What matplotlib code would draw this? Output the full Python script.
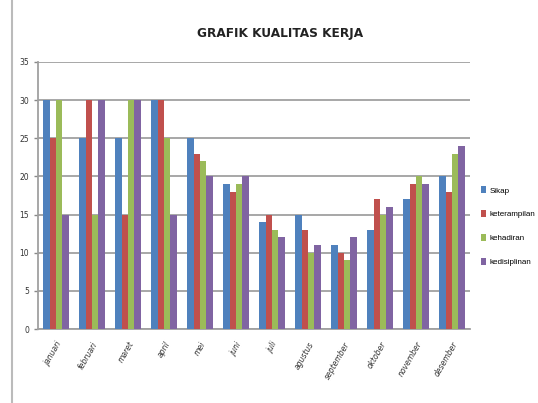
import matplotlib
matplotlib.use("Agg")
import matplotlib.pyplot as plt
import numpy as np
from matplotlib.lines import Line2D

months = ["januari", "februari", "maret", "april", "mei", "juni", "juli",
          "agustus", "september", "oktober", "november", "desember"]
series_names = ["Sikap", "keterampilan", "kehadiran", "kedisiplinan"]
sikap = [30, 25, 25, 30, 25, 19, 14, 15, 11, 13, 17, 20]
keterampilan = [25, 30, 15, 30, 23, 18, 15, 13, 10, 17, 19, 18]
kehadiran = [30, 15, 30, 25, 22, 19, 13, 10, 9, 15, 20, 23]
kedisiplinan = [15, 30, 30, 15, 20, 20, 12, 11, 12, 16, 19, 24]
yticks = [0, 5, 10, 15, 20, 25, 30, 35]
colors = ["#4F81BD", "#C0504D", "#9BBB59", "#8064A2"]

fig = plt.figure(figsize=(5.38, 4.03), dpi=100)
ax = fig.add_axes([0.0706, 0.1836, 0.8030, 0.6626])

x = np.arange(len(months))
w = 0.18
data = [sikap, keterampilan, kehadiran, kedisiplinan]
for i, (vals, c, name) in enumerate(zip(data, colors, series_names)):
    ax.bar(x + (i - 1.5) * w, vals, w, color=c, label=name, zorder=3)

ax.set_ylim(0, 35)
ax.set_xlim(-0.5, len(months) - 0.5)
ax.set_yticks(yticks)
ax.set_yticklabels([str(v) for v in yticks], fontsize=5.5, color="#333333")
ax.set_xticks(x)
ax.set_xticklabels(months, rotation=60, ha="right", rotation_mode="anchor",
                   fontsize=5.5, style="italic", color="#333333")
ax.tick_params(axis="x", length=0, pad=8)
ax.tick_params(axis="y", length=3, color="#888888", width=1)
ax.yaxis.grid(True, color="#A0A0A0", linewidth=1.3, zorder=0)
ax.set_axisbelow(True)
for s in ["top", "right"]:
    ax.spines[s].set_visible(False)
ax.spines["left"].set_color("#A0A0A0")
ax.spines["left"].set_linewidth(1.3)
ax.spines["bottom"].set_color("#A0A0A0")
ax.spines["bottom"].set_linewidth(1.3)

fig.text(0.52, 0.918, "GRAFIK KUALITAS KERJA", ha="center", va="center",
         fontsize=8.7, fontweight="bold", color="#222222")

leg = ax.legend(loc="center left", bbox_to_anchor=(1.012, 0.385), frameon=False,
                prop={"family": "Liberation Sans", "size": 5.8},
                handlelength=0.7, handleheight=0.9, borderpad=0.2,
                labelspacing=1.95, handletextpad=0.35)

fig.add_artist(Line2D([12 / 538, 12 / 538], [0, 1], color="#BBBBBB",
                      linewidth=1.5, transform=fig.transFigure))

fig.savefig("out.png", dpi=100)
